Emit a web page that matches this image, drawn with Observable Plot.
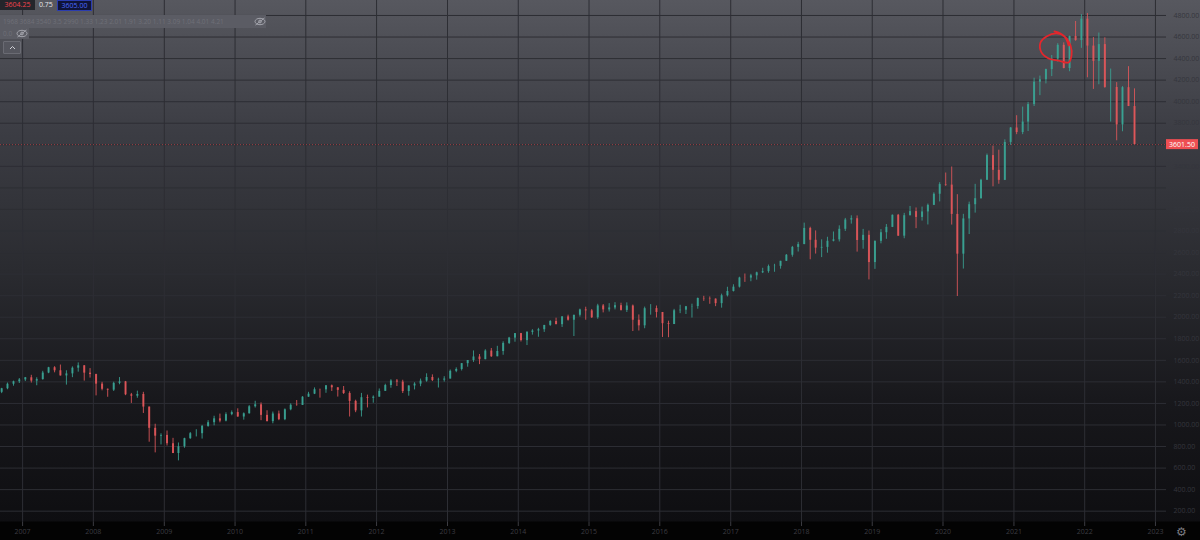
<!DOCTYPE html>
<html><head><meta charset="utf-8">
<script src="https://cdn.jsdelivr.net/npm/d3@7"></script>
<script src="https://cdn.jsdelivr.net/npm/@observablehq/plot@0.6"></script>
<style>
html,body{margin:0;padding:0;background:#000;}
#wrap{position:relative;width:1200px;height:540px;overflow:hidden;
 background:linear-gradient(to bottom,#57585f 0px,#3c3d44 130px,#2a2b30 270px,#18181c 400px,#0e0e11 521px,#030303 522px,#030303 540px);
 font-family:"Open Sans","DejaVu Sans",sans-serif;}
#chart{position:absolute;left:0;top:0;}
.ov{position:absolute;font-size:7px;line-height:10px;white-space:nowrap;}
</style></head>
<body>
<div id="wrap">
  <div id="chart"></div>
  <div class="ov" style="left:0;top:0;width:35px;height:10px;background:#24252b;color:#f0434b;text-align:center;">3604.25</div>
  <div class="ov" style="left:39px;top:0;height:10px;color:#e6e6ea;">0.75</div>
  <div class="ov" style="left:57px;top:0;width:33px;height:9px;line-height:9px;background:#0f1438;border:1px solid #2b3cae;color:#4b6bff;text-align:center;">3605.00</div>
  <div class="ov" style="left:0;top:15px;width:266px;height:13px;line-height:13px;background:#5b5c64;color:#6f7078;font-size:6.5px;padding-left:3px;box-sizing:border-box;">1968 3684 3540 3.5 2990 1.33 1.23 2.01 1.91 3.20 1.11 3.09 1.04 4.01 4.21
    <svg style="position:absolute;left:254px;top:2px" width="12" height="9" viewBox="0 0 12 9"><ellipse cx="6" cy="4.5" rx="5" ry="3.2" fill="none" stroke="#a4a5ad" stroke-width="1"/><circle cx="6" cy="4.5" r="1.4" fill="none" stroke="#a4a5ad"/><line x1="1.5" y1="8" x2="10.5" y2="1" stroke="#a4a5ad"/></svg>
  </div>
  <div class="ov" style="left:0;top:28px;width:29px;height:11px;line-height:11px;background:#5b5c64;color:#6f7078;font-size:6.5px;padding-left:3px;box-sizing:border-box;">0.0
    <svg style="position:absolute;left:16px;top:1px" width="12" height="9" viewBox="0 0 12 9"><ellipse cx="6" cy="4.5" rx="5" ry="3.2" fill="none" stroke="#a4a5ad" stroke-width="1"/><circle cx="6" cy="4.5" r="1.4" fill="none" stroke="#a4a5ad"/><line x1="1.5" y1="8" x2="10.5" y2="1" stroke="#a4a5ad"/></svg>
  </div>
  <div class="ov" style="left:3px;top:41px;width:16px;height:11px;background:#55565e;border:1px solid #6a6b73;border-radius:1px;">
    <svg style="position:absolute;left:5px;top:3px" width="7" height="5" viewBox="0 0 7 5"><polyline points="1,4 3.5,1.5 6,4" fill="none" stroke="#d0d0d6" stroke-width="1"/></svg>
  </div>
  <div class="ov" style="left:1176px;top:526px;font-size:12px;line-height:12px;color:#7a7a80;">⚙</div>
</div>
<script>
// Monthly candles (ES / S&P 500), first month Sep 2006
const startMonth = "2006-09-01";
const open = [
 1303,1336,1378,1401,
 1418,1438,1407,1421,1482,1531,1503,1455,1474,1527,1549,1481,
 1468,1379,1331,1323,1386,1400,1280,1267,1283,1166,969,896,
 903,826,735,798,873,919,919,987,1021,1057,1036,1096,
 1115,1074,1104,1169,1187,1089,1031,1102,1049,1141,1183,1181,
 1258,1286,1327,1326,1364,1345,1321,1292,1219,1131,1253,1247,
 1258,1312,1366,1408,1398,1310,1362,1379,1407,1441,1412,1416,
 1426,1498,1515,1569,1598,1631,1606,1686,1633,1682,1757,1806,
 1848,1783,1859,1872,1884,1924,1960,1931,2003,1972,2018,2068,
 2059,1995,2105,2068,2086,2107,2063,2104,1972,1920,2079,2080,
 2044,1940,1932,2060,2065,2097,2099,2174,2171,2168,2126,2199,
 2239,2279,2364,2363,2384,2412,2423,2470,2472,2519,2575,2648,
 2674,2824,2714,2641,2648,2705,2718,2816,2902,2914,2712,2760,
 2507,2704,2784,2834,2946,2752,2942,2980,2926,2977,3038,3141,
 3231,3226,2954,2585,2912,3044,3100,3271,3500,3363,3270,3622,
 3756,3714,3811,3973,4181,4204,4298,4395,4523,4308,4605,4567,
 4766,4516,4374,4530,4132,4132,3785,4130,3955];
const high = [
 1340,1389,1407,1431,
 1441,1461,1438,1498,1535,1541,1556,1503,1539,1576,1552,1523,
 1471,1396,1334,1397,1440,1404,1293,1314,1303,1167,1007,918,
 944,876,833,877,930,956,996,1040,1081,1101,1113,1130,
 1150,1112,1180,1220,1205,1132,1120,1129,1149,1196,1227,1263,
 1303,1344,1333,1364,1371,1346,1357,1308,1230,1293,1277,1270,
 1334,1378,1420,1422,1415,1363,1392,1426,1475,1465,1434,1448,
 1510,1530,1570,1598,1687,1654,1698,1710,1730,1772,1813,1849,
 1850,1867,1884,1897,1924,1968,1991,2005,2019,2018,2075,2093,
 2072,2120,2118,2126,2135,2130,2133,2113,2021,2094,2117,2104,
 2044,1963,2073,2111,2100,2121,2178,2194,2188,2170,2214,2278,
 2301,2371,2401,2398,2418,2454,2484,2491,2519,2582,2657,2695,
 2873,2835,2801,2718,2742,2791,2848,2917,2941,2940,2815,2800,
 2708,2813,2860,2949,2954,2964,3028,3014,3022,3050,3154,3248,
 3338,3394,3137,2955,3068,3233,3280,3514,3588,3550,3646,3760,
 3870,3950,3994,4218,4238,4302,4429,4538,4546,4608,4744,4808,
 4818,4595,4637,4593,4303,4177,4140,4325,4119];
const low = [
 1291,1327,1360,1385,
 1403,1389,1364,1416,1476,1484,1454,1370,1439,1490,1407,1435,
 1270,1317,1257,1311,1373,1272,1200,1248,1107,840,741,815,
 805,735,667,784,866,889,869,979,992,1020,1029,1086,
 1071,1045,1101,1157,1040,1029,1011,1040,1040,1132,1174,1181,
 1257,1282,1249,1294,1311,1259,1283,1074,1114,1074,1158,1202,
 1258,1312,1341,1357,1292,1267,1325,1355,1397,1403,1343,1398,
 1426,1485,1501,1536,1581,1560,1605,1627,1633,1647,1747,1768,
 1770,1737,1834,1814,1859,1915,1930,1905,1964,1821,2001,1972,
 1988,1981,2040,2048,2068,2057,2044,1867,1872,1893,2019,1993,
 1812,1810,1932,2033,2025,1992,2074,2147,2120,2098,2084,2188,
 2234,2271,2323,2329,2344,2405,2408,2417,2446,2517,2557,2605,
 2673,2533,2586,2553,2594,2699,2698,2796,2864,2604,2631,2346,
 2444,2681,2723,2832,2750,2728,2940,2822,2892,2856,3036,3070,
 3214,2855,2192,2447,2767,2966,3095,3270,3210,3234,3268,3594,
 3694,3694,3723,3955,4056,4165,4233,4367,4305,4278,4561,4495,
 4222,4114,4157,4124,3811,3637,3721,3955,3601];
const close = [
 1336,1378,1401,1418,
 1438,1407,1421,1482,1531,1503,1455,1474,1527,1549,1481,1468,
 1379,1331,1323,1386,1400,1280,1267,1283,1166,969,896,903,
 826,735,798,873,919,919,987,1021,1057,1036,1096,1115,
 1074,1104,1169,1187,1089,1031,1102,1049,1141,1183,1181,1258,
 1286,1327,1326,1364,1345,1321,1292,1219,1131,1253,1247,1258,
 1312,1366,1408,1398,1310,1362,1379,1407,1441,1412,1416,1426,
 1498,1515,1569,1598,1631,1606,1686,1633,1682,1757,1806,1848,
 1783,1859,1872,1884,1924,1960,1931,2003,1972,2018,2068,2059,
 1995,2105,2068,2086,2107,2063,2104,1972,1920,2079,2080,2044,
 1940,1932,2060,2065,2097,2099,2174,2171,2168,2126,2199,2239,
 2279,2364,2363,2384,2412,2423,2470,2472,2519,2575,2648,2674,
 2824,2714,2641,2648,2705,2718,2816,2902,2914,2712,2760,2507,
 2704,2784,2834,2946,2752,2942,2980,2926,2977,3038,3141,3231,
 3226,2954,2585,2912,3044,3100,3271,3500,3363,3270,3622,3756,
 3714,3811,3973,4181,4204,4298,4395,4523,4308,4605,4567,4766,
 4516,4374,4530,4132,4132,3785,4130,3955,3601.5];
const lastPrice = 3601.5;
const yearLabels = [2007,2008,2009,2010,2011,2012,2013,2014,2015,2016,2017,2018,2019,2020,2021,2022,2023];
const priceTicks = [200,400,600,800,1000,1200,1400,1600,1800,2000,2200,2400,2600,2800,3000,3200,3400,3600,3800,4000,4200,4400,4600,4800];
// hand-drawn red loop annotation (date, price)
const circleDates = ["2021-10-10","2021-09-19","2021-08-09","2021-06-18","2021-05-18","2021-05-23","2021-06-29","2021-08-19","2021-10-10","2021-10-25","2021-10-20","2021-09-29","2021-08-29","2021-07-29"];
const circleValues = [4522,4605,4633,4605,4549,4457,4401,4382,4364,4429,4522,4587,4633,4652];

const start = new Date(startMonth);
const candles = close.map((c, i) => ({
  date: d3.utcDay.offset(d3.utcMonth.offset(start, i), 14),
  open: open[i], high: high[i], low: low[i], close: c,
  dir: c >= open[i] ? "up" : "down"
}));
const circle = circleDates.map((d, i) => ({date: new Date(d), value: circleValues[i]}));
const yearTicks = yearLabels.map(y => new Date(Date.UTC(y, 0, 1)));

const plot = Plot.plot({
  width: 1200, height: 540,
  marginLeft: 0, marginRight: 34, marginTop: 0, marginBottom: 18,
  style: {background: "transparent", color: "#36373e", fontFamily: "'Open Sans','DejaVu Sans',sans-serif", fontSize: "7px"},
  x: {type: "utc", domain: [new Date("2006-09-09"), new Date("2023-02-27")]},
  y: {domain: [95, 4939]},
  color: {domain: ["up", "down"], range: ["#3aa394", "#e0575a"]},
  marks: [
    Plot.ruleY(priceTicks, {stroke: "#2d2e34"}),
    Plot.ruleX(yearTicks, {stroke: "#2d2e34"}),
    Plot.ruleY([lastPrice], {stroke: "#e5484d", strokeDasharray: "1,2", strokeOpacity: 0.6}),
    Plot.ruleX(candles, {x: "date", y1: "low", y2: "high", stroke: "dir", strokeWidth: 1, strokeOpacity: 0.85}),
    Plot.ruleX(candles, {x: "date", y1: "open", y2: "close", stroke: "dir", strokeWidth: 2, strokeOpacity: 0.9}),
    Plot.line(circle, {x: "date", y: "value", curve: "catmull-rom", stroke: "#e3262c", strokeWidth: 1.8}),
    Plot.axisY(priceTicks.filter(v => v !== 3600), {anchor: "right", tickSize: 0, tickPadding: 7, tickFormat: d => d.toFixed(2), fill: "#35363d"}),
    Plot.axisX(yearTicks, {tickFormat: d3.utcFormat("%Y"), tickSize: 4, tickPadding: 3, stroke: "#3c3c42", fill: "#3c3c42"})
  ]
});
document.getElementById("chart").appendChild(plot);

// last-price label on the price axis
const svg = d3.select(plot);
const yPix = plot.scale("y").apply(lastPrice);
const xEdge = plot.scale("x").range[1];
const g = svg.append("g");
g.append("rect").attr("x", xEdge).attr("y", yPix - 5).attr("width", 32).attr("height", 10).attr("fill", "#ef4f53");
g.append("text").attr("x", xEdge + 16).attr("y", yPix).attr("dy", "0.35em").attr("text-anchor", "middle")
  .attr("fill", "#ffffff").attr("font-size", 7).text(lastPrice.toFixed(2));
</script>
</body></html>
